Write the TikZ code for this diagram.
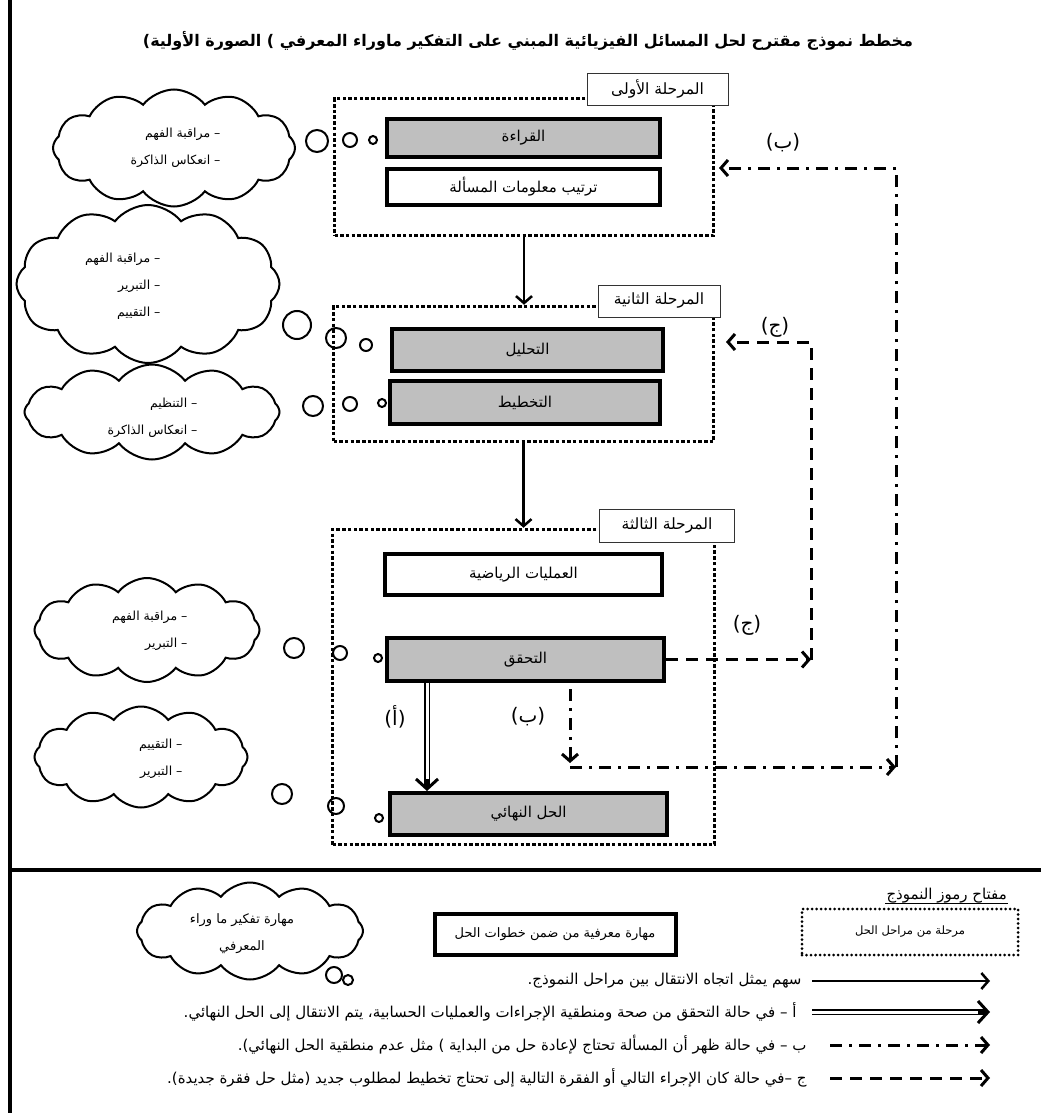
\documentclass[tikz,border=0pt]{standalone}
\usepackage{fontspec}
\usetikzlibrary{arrows.meta, shapes.symbols}
\TeXXeTstate=1
\newfontfamily\arabicfont[Script=Arabic]{DejaVu Sans}
\newcommand{\artext}[1]{\beginR #1\endR}

\begin{document}
\begin{tikzpicture}[
  x=1pt, y=-1pt,
  >={Straight Barb[length=7pt, width=16pt]},
  stagebox/.style={draw, line width=3.5pt, dash pattern=on 3.5pt off 2.2pt},
  stagetag/.style={draw=black!80, line width=0.8pt, fill=white,
    font=\arabicfont\fontsize{15.5}{18}\selectfont},
  skillbox/.style={draw, line width=4pt, fill=gray!50,
    font=\arabicfont\fontsize{15}{17}\selectfont},
  stepbox/.style={draw, line width=4pt, fill=white,
    font=\arabicfont\fontsize{15}{17}\selectfont},
  skillcloud/.style={cloud, draw, line width=2pt, cloud puffs=12,
    cloud puff arc=105, cloud ignores aspect, inner sep=0pt},
  cloudtxt/.style={align=right, font=\arabicfont\fontsize{12.5}{27}\selectfont},
  bubble/.style={line width=2pt},
  flow/.style={line width=2.5pt, ->},
  pass/.style={double, double distance=3pt, line width=1.2pt, shorten >=5pt},
  passtip/.style={line width=3pt, -{Straight Barb[length=10pt, width=22pt]}},
  redo/.style={line width=3pt, dash pattern=on 12pt off 7pt on 3pt off 7pt, ->},
  replan/.style={line width=3pt, dash pattern=on 12pt off 8pt, ->},
  letter/.style={font=\arabicfont\fontsize{20}{22}\selectfont},
  keytxt/.style={font=\arabicfont\fontsize{15}{17}\selectfont},
  keydots/.style={draw, line width=3pt, dash pattern=on 0pt off 4.5pt,
    line cap=round, font=\arabicfont\fontsize{11.5}{13}\selectfont},
]
\useasboundingbox (0,0) rectangle (1041,1113);

% ── Frame and separator ──────────────────────────────────────────────────────
\draw[line width=4pt] (10,0) -- (10,1113);
\draw[line width=4pt] (10,870) -- (1041,870);

% ── Title ────────────────────────────────────────────────────────────────────
\node[font=\arabicfont\bfseries\fontsize{16}{19}\selectfont] (title) at (528,41)
  {\artext{مخطط نموذج  مقترح لحل المسائل الفيزيائية المبني على التفكير ماوراء المعرفي ) الصورة الأولية)}};

% ── Stages (dotted frames) ───────────────────────────────────────────────────
\node[stagebox, minimum width=379pt, minimum height=137pt] (st1) at (524,167) {};
\node[stagebox, minimum width=380pt, minimum height=135pt] (st2) at (523.5,374) {};
\node[stagebox, minimum width=382pt, minimum height=315pt] (st3) at (523.5,687) {};

\node[stagetag, minimum width=141pt, minimum height=32pt] (tag1) at (657.5,89)
  {\artext{المرحلة الأولى}};
\node[stagetag, minimum width=122pt, minimum height=32pt] (tag2) at (659,301)
  {\artext{المرحلة الثانية}};
\node[stagetag, minimum width=135pt, minimum height=33pt] (tag3) at (667,525.5)
  {\artext{المرحلة الثالثة}};

% ── Steps inside the stages ──────────────────────────────────────────────────
\node[skillbox, minimum width=273pt, minimum height=38pt] (read)    at (523.5,138)   {\artext{القراءة}};
\node[stepbox,  minimum width=273pt, minimum height=36pt] (arrange) at (523.5,187)   {\artext{ترتيب معلومات المسألة}};
\node[skillbox, minimum width=271pt, minimum height=42pt] (analyse) at (527.5,350)   {\artext{التحليل}};
\node[skillbox, minimum width=270pt, minimum height=43pt] (plan)    at (525,402.5)   {\artext{التخطيط}};
\node[stepbox,  minimum width=277pt, minimum height=41pt] (math)    at (523.5,574.5) {\artext{العمليات الرياضية}};
\node[skillbox, minimum width=277pt, minimum height=43pt] (verify)  at (525.5,659.5) {\artext{التحقق}};
\node[skillbox, minimum width=277pt, minimum height=42pt] (final)   at (528.5,814)   {\artext{الحل النهائي}};

% ── Metacognitive clouds ─────────────────────────────────────────────────────
\node[skillcloud, minimum width=242pt, minimum height=117pt] (cl1) at (174,148) {};
\node[cloudtxt, anchor=east] (cl1t) at (224,148)
  {\artext{– مراقبة الفهم}\\\artext{– انعكاس الذاكرة}};
\node[skillcloud, minimum width=263pt, minimum height=158pt] (cl2) at (148,284) {};
\node[cloudtxt, anchor=east] (cl2t) at (164,286)
  {\artext{– مراقبة الفهم}\\\artext{– التبرير}\\\artext{– التقييم}};
\node[skillcloud, minimum width=255pt, minimum height=95pt] (cl3) at (152,412) {};
\node[cloudtxt, anchor=east] (cl3t) at (201,418)
  {\artext{– التنظيم}\\\artext{– انعكاس الذاكرة}};
\node[skillcloud, minimum width=225pt, minimum height=104pt] (cl4) at (147,630) {};
\node[cloudtxt, anchor=east] (cl4t) at (191,631)
  {\artext{– مراقبة الفهم}\\\artext{– التبرير}};
\node[skillcloud, minimum width=213pt, minimum height=101pt] (cl5) at (141,757) {};
\node[cloudtxt, anchor=east] (cl5t) at (186,759)
  {\artext{– التقييم}\\\artext{– التبرير}};

% thought bubbles (x/y/radius)
\foreach \bx/\by/\br in {317/141/11, 350/140/7, 373/140/4,
                         297/325/14, 336/338/10, 366/345/6,
                         313/406/10, 350/404/7, 382/403/4,
                         294/648/10, 340/653/7, 378/658/4,
                         282/794/10, 336/806/8, 379/818/4,
                         334/975/8, 348/980/5}
  \draw[bubble] (\bx,\by) circle[radius=\br];

% ── Transitions between stages ───────────────────────────────────────────────
\draw[flow] (st1.south) -- (st1.south |- st2.north);
\draw[flow] (st2.south) -- (st2.south |- st3.north);

% (a) verified: go to the final solution
\coordinate (atop) at ([xshift=42pt]verify.south west);
\coordinate (abot) at (atop |- final.north);
\draw[pass] (atop) -- (abot);
\draw[passtip] ([yshift=12pt]abot) -- (abot);

% (c) new planning
\coordinate (jlow) at (811,659.5);
\coordinate (jtop) at (811,342);
\coordinate (jend) at (726,342);
\draw[replan] (verify.east) -- (jlow);
\draw[replan] (jlow) -- (jtop) -- (jend);

% (b) restart from the beginning
\coordinate (bstart) at (570,689);
\coordinate (bdrop)  at (570,763);
\coordinate (bturn)  at (570,767);
\coordinate (bright) at (896,767);
\coordinate (btop)   at (896,168);
\coordinate (bend)   at (719,168);
\draw[redo] (bstart) -- (bdrop);
\draw[redo] (bturn) -- (bright);
\draw[redo] (bright) -- (btop) -- (bend);

\node[letter] (lb1) at (783,143) {\artext{(ب)}};
\node[letter] (lj1) at (775,327) {\artext{(ج)}};
\node[letter] (lj2) at (747,625) {\artext{(ج)}};
\node[letter] (la)  at (395,717) {\artext{(أ)}};
\node[letter] (lb2) at (528,717) {\artext{(ب)}};

% ── Key ──────────────────────────────────────────────────────────────────────
\node[keytxt, anchor=east, inner sep=1pt] (keyttl) at (1008,896) {\artext{مفتاح رموز النموذج}};
\draw[line width=0.8pt] ([yshift=1pt]keyttl.south west) -- ([yshift=1pt]keyttl.south east);
\node[keydots, minimum width=216pt, minimum height=46pt] (keystage) at (910,932)
  {\artext{مرحلة من مراحل الحل}};
\node[stepbox, minimum width=241pt, minimum height=41pt,
  font=\arabicfont\fontsize{13}{15}\selectfont] (keystep) at (555,934.5)
  {\artext{مهارة معرفية من ضمن خطوات الحل}};
\node[skillcloud, minimum width=226pt, minimum height=97pt] (keycloud) at (250,931) {};
\node[align=center, font=\arabicfont\fontsize{13}{27}\selectfont] (keycloudt) at (242,934)
  {\artext{مهارة تفكير ما وراء}\\\artext{المعرفي}};

\coordinate (k1a) at (812,981);  \coordinate (k1b) at (990,981);
\coordinate (k2a) at (812,1012); \coordinate (k2b) at (990,1012);
\coordinate (k3a) at (830,1045); \coordinate (k3b) at (990,1045);
\coordinate (k4a) at (830,1078); \coordinate (k4b) at (990,1078);
\draw[flow]    (k1a) -- (k1b);
\draw[pass]    (k2a) -- (k2b);
\draw[passtip] ([xshift=-12pt]k2b) -- (k2b);
\draw[redo]    (k3a) -- (k3b);
\draw[replan]  (k4a) -- (k4b);

\node[keytxt, anchor=east] (k1t) at (805,981)
  {\artext{سهم يمثل اتجاه الانتقال بين مراحل النموذج.}};
\node[keytxt, anchor=east] (k2t) at (800,1012)
  {\artext{أ – في حالة التحقق من صحة ومنطقية الإجراءات والعمليات الحسابية، يتم الانتقال إلى الحل النهائي.}};
\node[keytxt, anchor=east] (k3t) at (810,1045)
  {\artext{ب – في حالة ظهر أن المسألة تحتاج لإعادة حل من البداية ) مثل عدم منطقية الحل النهائي).}};
\node[keytxt, anchor=east] (k4t) at (810,1078)
  {\artext{ج –في حالة كان الإجراء التالي أو الفقرة التالية إلى تحتاج تخطيط لمطلوب جديد (مثل حل فقرة جديدة).}};

\end{tikzpicture}
\end{document}
